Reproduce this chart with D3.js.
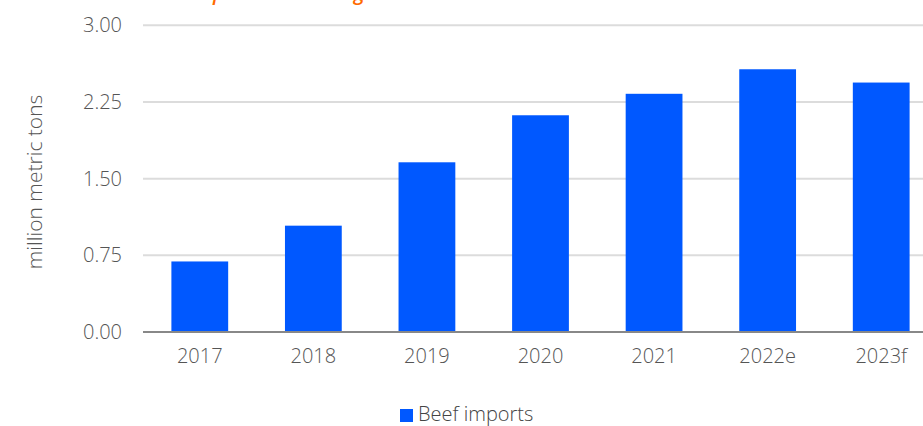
<!DOCTYPE html>
<html>
<head>
<meta charset="utf-8">
<script src="https://cdn.jsdelivr.net/npm/d3@7"></script>
<style>
  html, body { margin: 0; padding: 0; background: #fff; }
  svg { display: block; font-family: "Open Sans", "Noto Sans", sans-serif; }
</style>
</head>
<body>
<svg id="chart" width="923" height="426"></svg>
<script>
// Beef imports, million metric tons
const years = ["2017", "2018", "2019", "2020", "2021", "2022e", "2023f"];
const beefImports = [0.69, 1.04, 1.66, 2.12, 2.33, 2.57, 2.44];
const yTicks = [0, 0.75, 1.5, 2.25, 3];
const seriesName = "Beef imports";
const yTitle = "million metric tons";
const title = "Imports remain high";

const margin = { left: 143, top: 25.3, bottom: 332 };
const plotRight = 938;
const labelFont = "'Open Sans', sans-serif";
const labelColor = "#555";

const svg = d3.select("#chart");

const x = d3.scaleBand()
  .domain(years)
  .range([margin.left, plotRight])
  .paddingInner(0.5)
  .paddingOuter(0.25);

const y = d3.scaleLinear()
  .domain([0, 3])
  .range([margin.bottom, margin.top]);

// headline, mostly above the top edge of the frame
const titleText = svg.append("text")
  .attr("y", 0)
  .attr("fill", "#ff6a00")
  .attr("font-size", 20)
  .attr("font-style", "italic")
  .attr("font-weight", 600)
  .text(title);
const pOffset = titleText.node().getSubStringLength(0, 2);
titleText.attr("x", 213 - pOffset);

// horizontal grid
svg.append("g")
  .selectAll("line")
  .data(yTicks.filter(d => d > 0))
  .join("line")
  .attr("x1", margin.left)
  .attr("x2", plotRight)
  .attr("y1", d => y(d))
  .attr("y2", d => y(d))
  .attr("stroke", "#dcdcdc")
  .attr("stroke-width", 2);

// y axis labels
const yAxis = d3.axisLeft(y)
  .tickValues(yTicks)
  .tickFormat(d3.format(".2f"))
  .tickSize(0)
  .tickPadding(21);
const gy = svg.append("g")
  .attr("transform", `translate(${margin.left},0)`)
  .call(yAxis);
gy.select(".domain").remove();
gy.selectAll("text")
  .attr("font-family", labelFont)
  .attr("font-weight", 300)
  .attr("font-size", 20)
  .attr("fill", labelColor);

// bars
svg.append("g")
  .selectAll("rect")
  .data(years.map((yr, i) => ({ yr, v: beefImports[i] })))
  .join("rect")
  .attr("x", d => x(d.yr))
  .attr("width", x.bandwidth())
  .attr("y", d => y(d.v))
  .attr("height", d => y(0) - y(d.v))
  .attr("fill", "#0058ff");

// x axis
const xAxis = d3.axisBottom(x).tickSize(0).tickPadding(17);
const gx = svg.append("g")
  .attr("transform", `translate(0,${margin.bottom})`)
  .call(xAxis);
gx.select(".domain")
  .attr("stroke", "#888")
  .attr("stroke-width", 2)
  .attr("d", `M${margin.left},0H${plotRight}`);
gx.selectAll("text")
  .attr("font-family", labelFont)
  .attr("font-weight", 300)
  .attr("font-size", 20)
  .attr("fill", labelColor);

// y axis title
svg.append("text")
  .attr("transform", `translate(42,182) rotate(-90)`)
  .attr("text-anchor", "middle")
  .attr("font-weight", 300)
  .attr("font-size", 21)
  .attr("fill", labelColor)
  .text(yTitle);

// legend
const legend = svg.append("g").attr("transform", "translate(400,409)");
legend.append("rect")
  .attr("width", 13)
  .attr("height", 13)
  .attr("fill", "#0058ff");
legend.append("text")
  .attr("x", 18)
  .attr("y", 12)
  .attr("font-weight", 300)
  .attr("font-size", 20)
  .attr("fill", "#444")
  .text(seriesName);
</script>
</body>
</html>
